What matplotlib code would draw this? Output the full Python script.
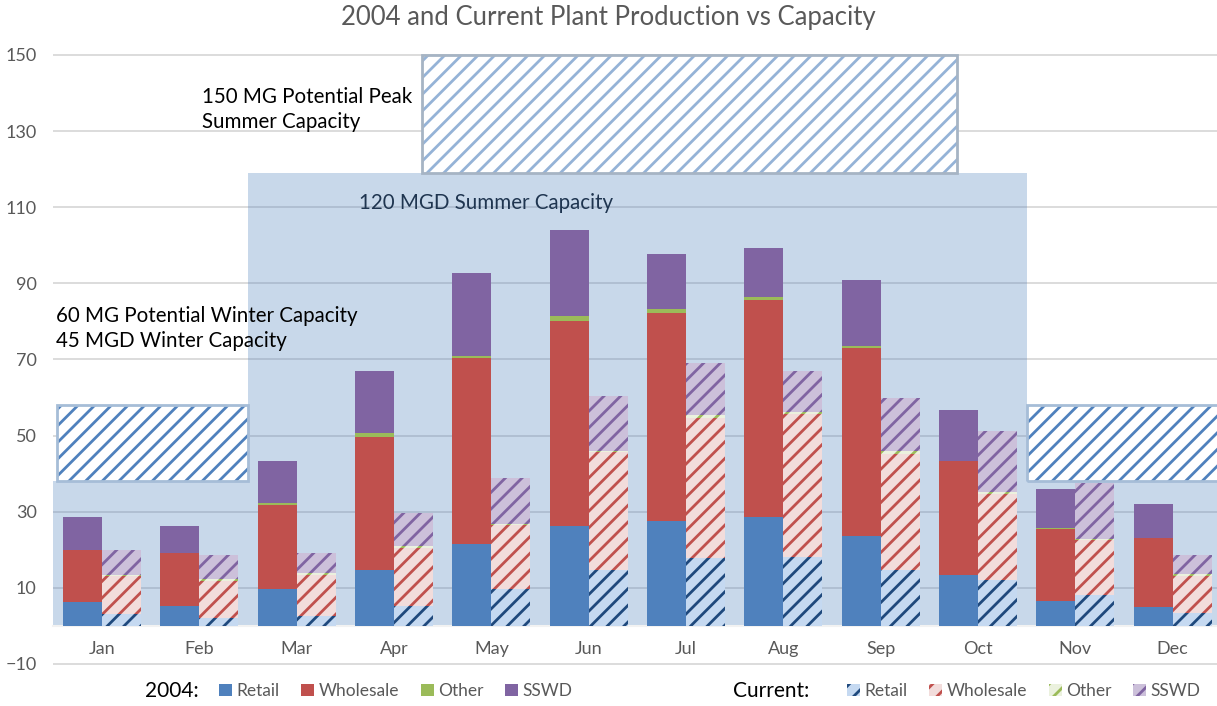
import numpy as np
import matplotlib.pyplot as plt

plt.rcParams['font.family'] = ['Lato', 'DejaVu Sans']
plt.rcParams['hatch.linewidth'] = 2.0

# data
months = ['Jan', 'Feb', 'Mar', 'Apr', 'May', 'Jun', 'Jul', 'Aug', 'Sep', 'Oct', 'Nov', 'Dec']
series = ['Retail', 'Wholesale', 'Other', 'SSWD']

retail_2004 = [6.2, 5.2, 9.7, 14.7, 21.5, 26.3, 27.6, 28.5, 23.6, 13.3, 6.6, 4.9]
wholesale_2004 = [13.8, 14.0, 22.1, 35.0, 48.8, 53.8, 54.7, 57.1, 49.4, 30.0, 18.9, 18.3]
other_2004 = [0.0, 0.0, 0.4, 0.9, 0.7, 1.3, 0.9, 0.7, 0.5, 0.0, 0.3, 0.0]
sswd_2004 = [8.5, 7.1, 11.1, 16.5, 21.7, 22.5, 14.4, 13.0, 17.3, 13.4, 10.3, 8.9]

retail_cur = [3.1, 2.2, 2.6, 5.3, 9.7, 14.7, 17.8, 18.2, 14.7, 12.1, 8.0, 3.5]
wholesale_cur = [10.0, 9.7, 10.8, 15.3, 16.7, 30.9, 36.9, 37.4, 30.6, 22.5, 14.5, 9.6]
other_cur = [0.4, 0.3, 0.4, 0.5, 0.5, 0.4, 0.6, 0.7, 0.6, 0.6, 0.3, 0.5]
sswd_cur = [6.5, 6.4, 5.3, 8.7, 11.9, 14.4, 13.9, 10.6, 13.9, 16.1, 14.8, 5.0]

# capacity bands
winter_cap = 38
winter_potential = 58
summer_cap = 119
summer_potential = 150

yticks = [-10, 10, 30, 50, 70, 90, 110, 130, 150]

solid_colors = ['#4F81BD', '#C0504D', '#9BBB59', '#8064A2']
light_colors = ['#C5D9F1', '#F2DCDB', '#EBF1DE', '#CCC0DA']
hatch_colors = ['#1F497D', '#C0504D', '#9BBB59', '#8064A2']

fig = plt.figure(figsize=(12.17, 7.06), dpi=100)
ax = fig.add_axes([0.0439, 0.0568, 0.9597, 0.8707])

x = np.arange(len(months))
w = 0.4

# shaded capacity areas
ax.bar([-0.5, 1.5, 9.5], [winter_cap, summer_cap, winter_cap], width=[2, 8, 2.2],
       align='edge', color='#4F81BD', alpha=0.31, lw=0, zorder=1)

# hatched potential capacity boxes
for left, width, lo, hi, hc, ec in [(-0.46, 1.96, winter_cap, winter_potential, '#4F81BD', '#A6BDD7'),
                                     (9.5, 2.1, winter_cap, winter_potential, '#4F81BD', '#A6BDD7'),
                                     (3.29, 5.49, summer_cap, summer_potential, '#95B3D7', '#A6B4C4')]:
    ax.bar(left, hi - lo, width=width, bottom=lo, align='edge', color='white',
           edgecolor=hc, hatch='//', lw=0, zorder=2, clip_on=False)
    ax.bar(left, hi - lo, width=width, bottom=lo, align='edge', fill=False,
           edgecolor=ec, lw=2, zorder=2, clip_on=False)

# 2004 bars
bottom = np.zeros(len(months))
h2004 = []
for vals, c, name in zip([retail_2004, wholesale_2004, other_2004, sswd_2004], solid_colors, series):
    b = ax.bar(x - w / 2, vals, width=w, bottom=bottom, color=c, lw=0, zorder=3, label=name)
    h2004.append(b)
    bottom += np.array(vals)

# current bars
bottom = np.zeros(len(months))
hcur = []
for vals, fc, hc, name in zip([retail_cur, wholesale_cur, other_cur, sswd_cur], light_colors, hatch_colors, series):
    b = ax.bar(x + w / 2, vals, width=w, bottom=bottom, color=fc, edgecolor=hc,
               hatch='//', lw=0, zorder=3, label=name)
    hcur.append(b)
    bottom += np.array(vals)

ax.set_xlim(-0.5, 11.5)
ax.set_ylim(-10.5, 151)
ax.set_yticks(yticks)
ax.yaxis.grid(True, color='#D9D9D9', lw=1.3)
ax.set_axisbelow(True)
ax.set_xticks(x, months)
for s in ['top', 'right', 'left']:
    ax.spines[s].set_visible(False)
ax.spines['bottom'].set_position(('data', 0))
ax.spines['bottom'].set_color('#F2F2F2')
ax.spines['bottom'].set_linewidth(1.5)
ax.tick_params(axis='x', length=0, pad=11, labelsize=13, labelcolor='#595959')
ax.tick_params(axis='y', length=0, pad=12, labelsize=13, labelcolor='#595959')

# annotations
ax.text(1.03, 135.6, '150 MG Potential Peak\nSummer Capacity', fontsize=14.8, color='black',
        va='center', linespacing=1.3)
ax.text(2.64, 111, '120 MGD Summer Capacity', fontsize=14.8, color='#1F3550', va='center')
ax.text(-0.47, 78.1, '60 MG Potential Winter Capacity\n45 MGD Winter Capacity', fontsize=14.8,
        color='black', va='center', linespacing=1.3)

fig.text(0.5, 1 - 18 / 706, '2004 and Current Plant Production vs Capacity', ha='center', va='center',
         fontsize=18.5, color='#595959')

# legends
ly = 1 - 691 / 706
fig.text(145 / 1217, ly, '2004:', fontsize=15, va='center')
fig.text(733 / 1217, ly, 'Current:', fontsize=15, va='center')
leg_kw = dict(ncol=4, loc='center left', frameon=False, handlelength=0.75, handleheight=0.75,
              handletextpad=0.25, columnspacing=1.25, fontsize=12.5, labelcolor='#595959',
              borderaxespad=0, borderpad=0)
fig.legend(h2004, series, bbox_to_anchor=(219 / 1217, ly), **leg_kw)
fig.legend(hcur, series, bbox_to_anchor=(847 / 1217, ly), **leg_kw)

fig.savefig('out.png', dpi=100)
